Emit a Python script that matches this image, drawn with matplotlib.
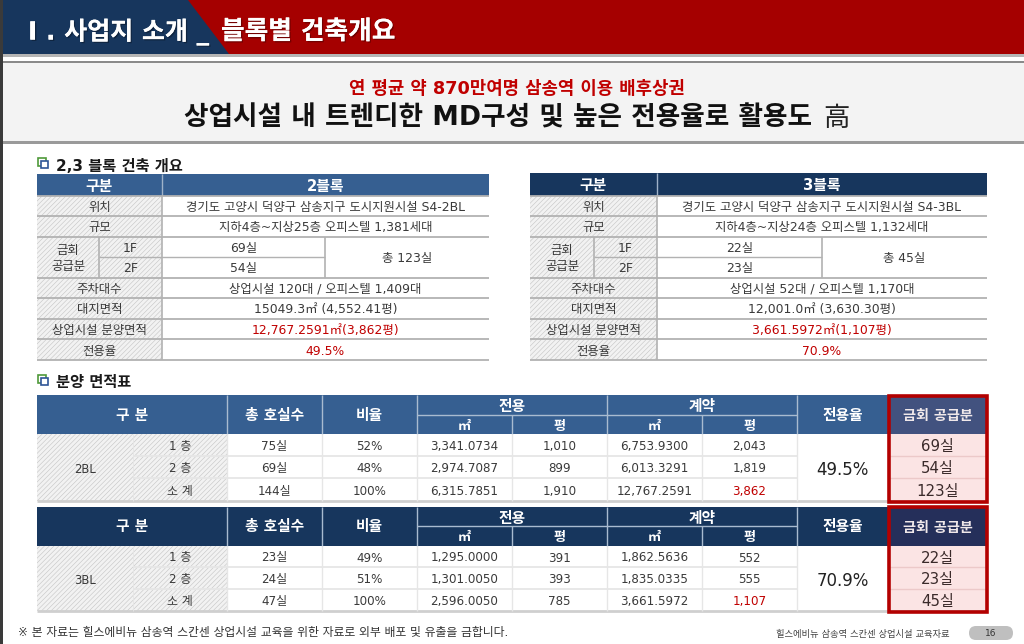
import matplotlib
matplotlib.use("Agg")
import matplotlib.pyplot as plt
from matplotlib.patches import Rectangle, Polygon, FancyBboxPatch
import matplotlib.patheffects as pe

plt.rcParams['font.family'] = ['DejaVu Sans', 'Noto Sans CJK KR']
plt.rcParams['hatch.linewidth'] = 0.4

# ---- content ----
header_left = "I . 사업지 소개 _"
header_right = "블록별 건축개요"
tagline = "연 평균 약 870만여명 삼송역 이용 배후상권"
headline = "상업시설 내 트렌디한 MD구성 및 높은 전용율로 활용도"
headline_end = "高"
section_one = "2,3 블록 건축 개요"
section_two = "분양 면적표"
footnote = "※ 본 자료는 힐스에비뉴 삼송역 스칸센 상업시설 교육을 위한 자료로 외부 배포 및 유출을 금합니다."
footer_text = "힐스에비뉴 삼송역 스칸센 상업시설 교육자료"
page_number = "16"

row_labels = ["위치", "규모", "주차대수", "대지면적", "상업시설 분양면적", "전용율"]
supply_label = "금회\n공급분"
floor_labels = ["1F", "2F"]
gubun = "구분"

block2_name = "2블록"
block2_location = "경기도 고양시 덕양구 삼송지구 도시지원시설 S4-2BL"
block2_scale = "지하4층~지상25층 오피스텔 1,381세대"
block2_supply = ["69실", "54실"]
block2_supply_total = "총 123실"
block2_parking = "상업시설 120대 / 오피스텔 1,409대"
block2_land = "15049.3㎡ (4,552.41평)"
block2_sale = "12,767.2591㎡(3,862평)"
block2_ratio = "49.5%"

block3_name = "3블록"
block3_location = "경기도 고양시 덕양구 삼송지구 도시지원시설 S4-3BL"
block3_scale = "지하4층~지상24층 오피스텔 1,132세대"
block3_supply = ["22실", "23실"]
block3_supply_total = "총 45실"
block3_parking = "상업시설 52대 / 오피스텔 1,170대"
block3_land = "12,001.0㎡ (3,630.30평)"
block3_sale = "3,661.5972㎡(1,107평)"
block3_ratio = "70.9%"

area_head = ["구 분", "총 호실수", "비율", "전용", "계약", "전용율", "금회 공급분"]
area_sub = ["㎡", "평", "㎡", "평"]
floors = ["1 층", "2 층", "소 계"]

bl2_name = "2BL"
bl2_rows = [
    ["75실", "52%", "3,341.0734", "1,010", "6,753.9300", "2,043"],
    ["69실", "48%", "2,974.7087", "899", "6,013.3291", "1,819"],
    ["144실", "100%", "6,315.7851", "1,910", "12,767.2591", "3,862"],
]
bl2_supply = ["69실", "54실", "123실"]

bl3_name = "3BL"
bl3_rows = [
    ["23실", "49%", "1,295.0000", "391", "1,862.5636", "552"],
    ["24실", "51%", "1,301.0050", "393", "1,835.0335", "555"],
    ["47실", "100%", "2,596.0050", "785", "3,661.5972", "1,107"],
]
bl3_supply = ["22실", "23실", "45실"]

# ---- styles ----
NAVY = "#17365d"
BLUE = "#365f91"
RED = "#a50000"
TXTRED = "#c00000"
DARK = "#3a3a3a"
HATCH_BG = "#f2f2f2"
HATCH_FG = "#c4c4c4"

fig = plt.figure(figsize=(10.24, 6.44), dpi=100, facecolor="white")
ax = fig.add_axes([0, 0, 1, 1])
ax.set_xlim(0, 1024)
ax.set_ylim(644, 0)
ax.axis("off")


def rect(x0, y0, x1, y1, color, z=1):
    ax.add_patch(Rectangle((x0, y0), x1 - x0, y1 - y0, fc=color, ec="none", lw=0, zorder=z))


def hatch(x0, y0, x1, y1):
    ax.add_patch(Rectangle((x0, y0), x1 - x0, y1 - y0, fc=HATCH_BG, ec="none", lw=0, zorder=1))
    ax.add_patch(Rectangle((x0, y0), x1 - x0, y1 - y0, fc="none", ec=HATCH_FG, lw=0,
                           hatch="///////", zorder=1.1))


def hline(x0, x1, y, color, lw=1.0, z=3):
    ax.plot([x0, x1], [y, y], color=color, lw=lw, solid_capstyle="butt", zorder=z)


def vline(x, y0, y1, color, lw=1.0, z=3):
    ax.plot([x, x], [y0, y1], color=color, lw=lw, solid_capstyle="butt", zorder=z)


def txt(x, y, s, size=8.9, color=DARK, weight="normal", ha="center", **kw):
    return ax.text(x, y, s, fontsize=size, color=color, fontweight=weight, ha=ha,
                   va="center_baseline", zorder=5, **kw)


def icon(x, y):
    ax.add_patch(Rectangle((x, y), 7.5, 7.5, fc="white", ec="#4f9a3a", lw=1.2, zorder=4))
    ax.add_patch(Rectangle((x + 3, y + 3), 6.5, 6.5, fc="white", ec="#2f5597", lw=1.2, zorder=4.5))


# ---- page header ----
rect(0, 0, 1024, 54, RED)
ax.add_patch(Polygon([(0, 0), (188, 0), (229, 54), (0, 54)], closed=True, fc=NAVY, ec="none", zorder=1.5))
rect(0, 0, 3, 644, "#3a3a3a", z=6)
rect(3, 54, 1024, 57, "#b5b5b5")
rect(3, 61, 1024, 63, "#8a8a8a")
rect(3, 63, 1024, 141, "#f3f3f3")
rect(3, 141, 1024, 144, "#9a9a9a")

shadow = [pe.withSimplePatchShadow(offset=(1, -1), shadow_rgbFace="#000000", alpha=0.3), pe.Normal()]
t = txt(28, 29, header_left, size=18, color="white", weight="bold", ha="left")
t.set_path_effects(shadow)
t = txt(221, 29, header_right, size=18.5, color="white", weight="bold", ha="left")
t.set_path_effects(shadow)

txt(517, 87, tagline, size=12.8, color=TXTRED, weight="bold")
txt(184, 116, headline, size=19.2, color="#111111", weight="bold", ha="left")
txt(836, 116, headline_end, size=19, color="#222222")

# ---- section titles ----
icon(38, 158)
txt(56, 165, section_one, size=11, color="#1a1a1a", weight="bold", ha="left")
icon(38, 375)
txt(56, 381, section_two, size=11, color="#1a1a1a", weight="bold", ha="left")


# ---- summary tables ----
def summary(x0, xc, xs, xv, x1, ytop, head_color, name, loc, scale, supply, total, parking, land, sale, ratio):
    ys = [195.5, 216, 236.5, 257, 277.5, 298, 318.5, 339, 360]
    line = "#b2b2b2"
    rect(x0, ytop, x1, ys[0], head_color)
    vline(xc, ytop, ys[0], "#9fb2c9", 1.0)
    txt((x0 + xc) / 2, (ytop + ys[0]) / 2, gubun, size=10.7, color="white", weight="bold")
    txt((xc + x1) / 2, (ytop + ys[0]) / 2, name, size=10.7, color="white", weight="bold")
    hatch(x0, ys[0], xc, ys[-1])
    for i, y in enumerate(ys):
        if i != 3:
            hline(x0, x1, y, line, 1.3)
    hline(xs, xv, ys[3], line, 1.0)
    vline(xc, ys[0], ys[-1], line, 1.2)
    vline(xs, ys[2], ys[4], line, 1.2)
    vline(xv, ys[2], ys[4], line, 1.2)
    mids = [(a + b) / 2 for a, b in zip(ys[:-1], ys[1:])]
    txt((x0 + xc) / 2, mids[0], row_labels[0])
    txt((x0 + xc) / 2, mids[1], row_labels[1])
    txt((x0 + xs) / 2, ys[3] - 8, supply_label.split("\n")[0])
    txt((x0 + xs) / 2, ys[3] + 8, supply_label.split("\n")[1])
    txt((xs + xc) / 2, mids[2], floor_labels[0])
    txt((xs + xc) / 2, mids[3], floor_labels[1])
    for i, lab in enumerate(row_labels[2:]):
        txt((x0 + xc) / 2, mids[4 + i], lab)
    cx = (xc + x1) / 2
    txt(cx, mids[0], loc)
    txt(cx, mids[1], scale)
    txt((xc + xv) / 2, mids[2], supply[0])
    txt((xc + xv) / 2, mids[3], supply[1])
    txt((xv + x1) / 2, ys[3], total)
    txt(cx, mids[4], parking)
    txt(cx, mids[5], land)
    txt(cx, mids[6], sale, color=TXTRED)
    txt(cx, mids[7], ratio, color=TXTRED)


summary(37, 162, 99, 325, 489, 173.5, BLUE, block2_name, block2_location, block2_scale, block2_supply,
        block2_supply_total, block2_parking, block2_land, block2_sale, block2_ratio)
summary(530, 657, 594, 822, 987, 173, NAVY, block3_name, block3_location, block3_scale, block3_supply,
        block3_supply_total, block3_parking, block3_land, block3_sale, block3_ratio)


# ---- area tables ----
def area(ytop, ysplit, yhead, yrows, head_color, box_head, name, rows, supply, ratio):
    cols = [37, 227, 322, 417, 512, 607, 702, 797, 888, 987]
    rect(cols[0], ytop, cols[8], yhead, head_color)
    rect(cols[8], ytop, cols[9], yhead, box_head)
    hl = "#a9bbd0"
    hmid = (ytop + yhead) / 2 - 1
    hs = 10.6
    txt(132, hmid, area_head[0], size=hs, color="white", weight="bold")
    txt((cols[1] + cols[2]) / 2, hmid, area_head[1], size=hs, color="white", weight="bold")
    txt((cols[2] + cols[3]) / 2, hmid, area_head[2], size=hs, color="white", weight="bold")
    txt((cols[3] + cols[5]) / 2, (ytop + ysplit) / 2, area_head[3], size=hs, color="white", weight="bold")
    txt((cols[5] + cols[7]) / 2, (ytop + ysplit) / 2, area_head[4], size=hs, color="white", weight="bold")
    txt((cols[7] + cols[8]) / 2, hmid, area_head[5], size=hs, color="white", weight="bold")
    txt((cols[8] + cols[9]) / 2, hmid + 1, area_head[6], size=10.2, color="#f0e8ea", weight="bold")
    for i, s in enumerate(area_sub):
        txt((cols[3 + i] + cols[4 + i]) / 2, (ysplit + yhead) / 2, s, size=9.5, color="white", weight="bold")
    hline(cols[3], cols[7], ysplit, hl, 1.0)
    for c in [cols[1], cols[2], cols[3], cols[5], cols[7]]:
        vline(c, ytop, yhead, hl, 1.0)
    for c in [cols[4], cols[6]]:
        vline(c, ysplit, yhead, hl, 1.0)

    ys = [yhead] + yrows
    hatch(cols[0], yhead, cols[1], ys[-1])
    rect(cols[8], yhead, cols[9], ys[-1], "#fbe4e4")
    grid = "#e6e6e6"
    for y in ys[1:-1]:
        hline(133, cols[7], y, grid, 1.3)
        hline(cols[8], cols[9], y, "#ecc9c9", 1.0)
    hline(cols[0], cols[9], ys[-1], "#cfcfcf", 2.0)
    for c in cols[1:8]:
        vline(c, yhead, ys[-1], grid, 1.0)
    vline(133, yhead, ys[-1], grid, 0.6)
    txt(85, (ys[0] + ys[-1]) / 2, name, size=8.4)
    for r in range(3):
        my = (ys[r] + ys[r + 1]) / 2
        txt(180, my, floors[r], size=8.6)
        for c, val in enumerate(rows[r]):
            red = r == 2 and c == 5
            txt((cols[1 + c] + cols[2 + c]) / 2, my, val, size=8.6,
                color=TXTRED if red else DARK)
        txt((cols[8] + cols[9]) / 2, my, supply[r], size=10.8, color="#3a2a2a")
    txt((cols[7] + cols[8]) / 2, (ys[0] + ys[-1]) / 2, ratio, size=12, color="#222222")


area(395, 415, 434, [456, 478, 501], BLUE, "#42527f", bl2_name, bl2_rows, bl2_supply, block2_ratio)
area(507, 526, 546, [567, 589, 611], NAVY, "#252f5a", bl3_name, bl3_rows, bl3_supply, block3_ratio)

# red frames around the supply columns
for y0, y1 in [(396, 501.5), (506.5, 611.5)]:
    ax.add_patch(Rectangle((889, y0), 97.5, y1 - y0, fc="none", ec="#b30000", lw=2.6, zorder=6))

# ---- footer ----
txt(18, 631, footnote, size=8.55, color="#333333", ha="left")
txt(950, 633, footer_text, size=6.7, color="#444444", ha="right")
ax.add_patch(FancyBboxPatch((969, 626), 44, 14, boxstyle="round,pad=0,rounding_size=7",
                            fc="#bfbfbf", ec="none", zorder=3))
txt(991, 633, page_number, size=6.5, color="#333333")

fig.savefig("out.png", dpi=100, facecolor="white")
